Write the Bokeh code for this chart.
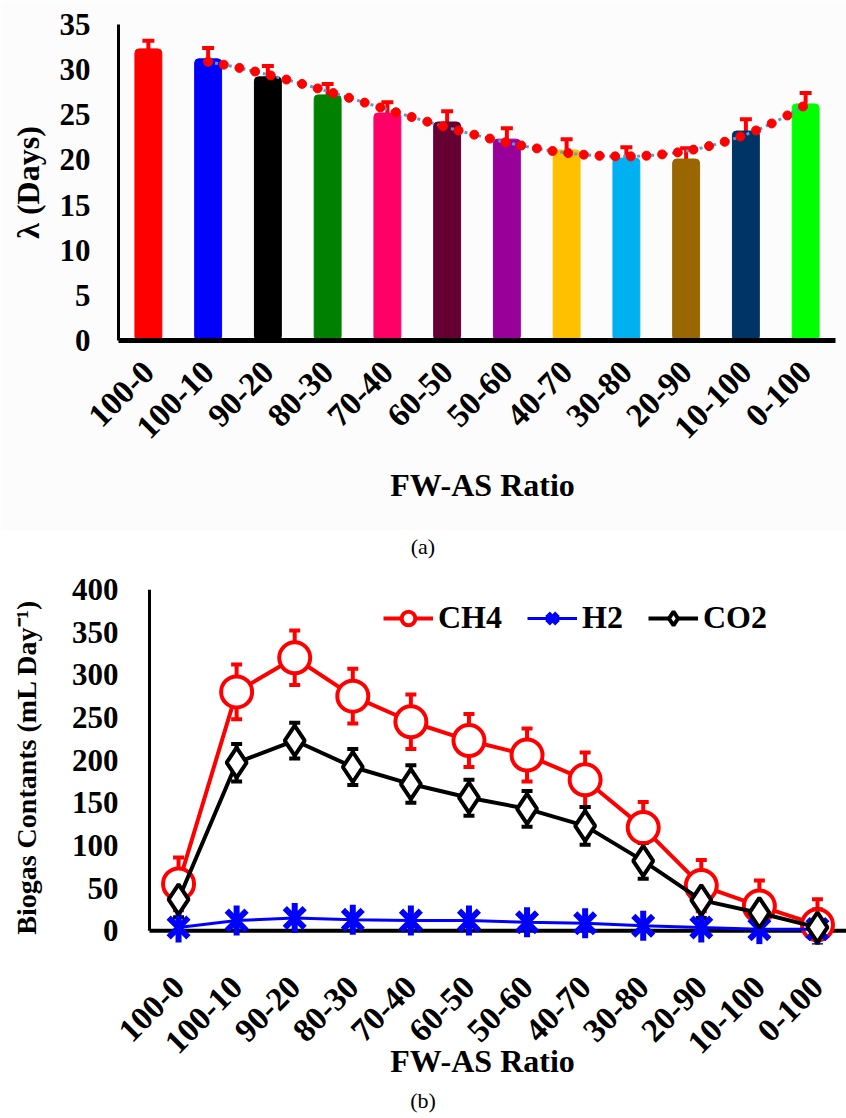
import math
import numpy as np
from bokeh.plotting import figure
from bokeh.models import (ColumnDataSource, Whisker, TeeHead, Range1d,
                          SingleIntervalTicker, FixedTicker, Legend, LegendItem, Div)
from bokeh.layouts import column
from bokeh.embed import file_html
from bokeh.resources import INLINE

# ---------------- data ----------------
ratios = ["100-0", "100-10", "90-20", "80-30", "70-40", "60-50",
          "50-60", "40-70", "30-80", "20-90", "10-100", "0-100"]

lag_days = [32.3, 31.2, 29.2, 27.2, 25.2, 24.2, 22.3, 21.1, 20.2, 20.1, 23.2, 26.2]
lag_err = [0.9, 1.2, 1.2, 1.2, 1.2, 1.2, 1.2, 1.2, 1.2, 1.2, 1.3, 1.2]
bar_colors = ["#FF0000", "#0000FF", "#000000", "#008000", "#FF0066", "#660033",
              "#990099", "#FFC000", "#00B0F0", "#996600", "#003366", "#00FF00"]

ch4 = [55, 280, 320, 275, 245, 223, 206, 177, 121, 53, 29, 7]
ch4_err = [31, 32, 32, 32, 32, 31, 31, 32, 30, 30, 30, 30]
h2 = [4, 12, 15, 13, 12, 12, 10, 9, 6, 4, 2, 2]
co2 = [37, 197, 223, 192, 172, 156, 143, 123, 82, 36, 21, 4]
co2_err = [21, 22, 21, 21, 22, 21, 21, 22, 21, 21, 21, 21]

FONT = "Liberation Serif"
idx = list(range(len(ratios)))


def style(p, tick_size, xtitle_size, ytitle_size):
    p.xgrid.visible = False
    p.ygrid.visible = False
    p.outline_line_color = None
    for ax in (p.xaxis[0], p.yaxis[0]):
        ax.major_tick_line_color = None
        ax.minor_tick_line_color = None
        ax.major_tick_out = 0
        ax.major_tick_in = 0
        ax.axis_line_color = "black"
        ax.major_label_text_font = FONT
        ax.major_label_text_font_style = "bold"
        ax.major_label_text_color = "black"
        ax.axis_label_text_font = FONT
        ax.axis_label_text_font_style = "bold"
        ax.axis_label_text_color = "black"
    p.yaxis[0].major_label_text_font_size = tick_size
    p.xaxis[0].major_label_text_font_size = "33px"
    p.xaxis[0].major_label_orientation = math.pi / 4
    p.xaxis[0].axis_label_text_font_size = xtitle_size
    p.yaxis[0].axis_label_text_font_size = ytitle_size
    p.xaxis[0].ticker = FixedTicker(ticks=idx)
    p.xaxis[0].major_label_overrides = {i: r for i, r in zip(idx, ratios)}


# ---------------- (a) lag phase bars ----------------
p1 = figure(width=846, height=530, x_range=Range1d(-0.5, 11.684),
            y_range=Range1d(0, 35), output_backend="svg", toolbar_location=None,
            min_border_left=118, min_border_right=0, min_border_top=24,
            min_border_bottom=190, background_fill_color="#fcfcfc",
            border_fill_color="#fcfcfc")

src_bar = ColumnDataSource(dict(x=idx, top=lag_days, color=bar_colors))
p1.vbar(x="x", top="top", width=0.45, color="color", source=src_bar, border_radius=4)

# polynomial trend (fitted to bars 2..12)
t_fit = np.array(idx[1:], dtype=float)
coef = np.polyfit(t_fit, np.array(lag_days[1:]), 3)
xs_line = np.linspace(t_fit[0], t_fit[-1], 300)
p1.line(xs_line, np.polyval(coef, xs_line),
        line_color="#5B9BD5", line_width=3, line_dash="3 4")
xs_dot = np.arange(t_fit[0], t_fit[-1] + 1e-6, 0.262)
p1.scatter(xs_dot, np.polyval(coef, xs_dot), marker="circle",
           size=9, fill_color="#FF0000", line_color="#FF0000")

src_e1 = ColumnDataSource(dict(x=idx,
                               up=[v + e for v, e in zip(lag_days, lag_err)],
                               lo=[v - e for v, e in zip(lag_days, lag_err)]))
p1.add_layout(Whisker(source=src_e1, base="x", upper="up", lower="lo",
                      line_color="#FF0000", line_width=4,
                      upper_head=TeeHead(size=12, line_color="#FF0000", line_width=4),
                      lower_head=TeeHead(size=12, line_color="#FF0000", line_width=4)))

style(p1, "31px", "32px", "32px")
p1.xaxis[0].bounds = (-0.5, 11.5)
p1.yaxis[0].ticker = SingleIntervalTicker(interval=5, num_minor_ticks=0)
p1.yaxis[0].axis_label = "λ (Days)"
p1.xaxis[0].axis_label = "FW-AS Ratio"
p1.yaxis[0].axis_line_width = 3
p1.xaxis[0].axis_line_width = 5
p1.yaxis[0].major_label_standoff = 28
p1.yaxis[0].axis_label_standoff = 11
p1.xaxis[0].major_label_standoff = 26
p1.xaxis[0].axis_label_standoff = 16

div_a = Div(text='<div style="width:846px;text-align:center;font-family:\'Liberation Serif\',serif;'
                 'font-size:22px;line-height:34px;color:#000">(a)</div>',
            width=846, height=30, margin=(0, 0, 0, 0))

# ---------------- (b) biogas contents ----------------
p2 = figure(width=846, height=530, x_range=Range1d(-1.0337, 11.5),
            y_range=Range1d(-16, 400), output_backend="svg", toolbar_location=None,
            min_border_left=118, min_border_right=0, min_border_top=29,
            min_border_bottom=146)

# axis lines (x axis at y = 0, y axis at the first category edge)
p2.segment(x0=[-0.5], y0=[0], x1=[11.5], y1=[0], line_color="black", line_width=4)
p2.segment(x0=[-0.5], y0=[0], x1=[-0.5], y1=[400], line_color="black", line_width=3)

l_ch4 = p2.line(idx, ch4, line_color="#FF0000", line_width=4)
s_ch4 = p2.scatter(idx, ch4, marker="circle", size=31, line_color="#FF0000",
                   line_width=4, fill_color="white")
l_h2 = p2.line(idx, h2, line_color="#0000FF", line_width=3)
s_h2a = p2.scatter(idx, h2, marker="x", size=28, line_color="#0000FF", line_width=6)
s_h2b = p2.scatter(idx, h2, marker="dash", angle=math.pi / 2, size=30,
                   line_color="#0000FF", line_width=6)
l_co2 = p2.line(idx, co2, line_color="#000000", line_width=4)
s_co2 = p2.scatter(idx, co2, marker="diamond", size=30, line_color="#000000",
                   line_width=4, fill_color="white")

for vals, errs, col in ((ch4, ch4_err, "#FF0000"), (co2, co2_err, "#000000")):
    src = ColumnDataSource(dict(x=idx,
                                up=[v + e for v, e in zip(vals, errs)],
                                lo=[v - e for v, e in zip(vals, errs)]))
    p2.add_layout(Whisker(source=src, base="x", upper="up", lower="lo",
                          line_color=col, line_width=4,
                          upper_head=TeeHead(size=11, line_color=col, line_width=4),
                          lower_head=TeeHead(size=11, line_color=col, line_width=4)))

style(p2, "31px", "32px", "28px")
p2.xaxis[0].axis_line_color = None
p2.yaxis[0].axis_line_color = None
p2.yaxis[0].ticker = SingleIntervalTicker(interval=50, num_minor_ticks=0)
p2.yaxis[0].axis_label = "Biogas Contants (mL Day⁻¹)"
p2.xaxis[0].axis_label = "FW-AS Ratio"
p2.yaxis[0].major_label_standoff = 0
p2.yaxis[0].axis_label_standoff = 27
p2.xaxis[0].major_label_standoff = 37
p2.xaxis[0].axis_label_standoff = -23

legend = Legend(items=[LegendItem(label="CH4", renderers=[l_ch4, s_ch4]),
                       LegendItem(label="H2", renderers=[l_h2, s_h2a, s_h2b]),
                       LegendItem(label="CO2", renderers=[l_co2, s_co2])],
                orientation="horizontal", location=(265, 308),
                glyph_width=50, glyph_height=34, label_standoff=5, spacing=25,
                padding=0, margin=0, border_line_color=None,
                background_fill_alpha=0,
                label_text_font=FONT, label_text_font_style="bold",
                label_text_font_size="32px", label_text_color="black")
p2.add_layout(legend)

div_b = Div(text='<div style="width:846px;text-align:center;font-family:\'Liberation Serif\',serif;'
                 'font-size:22px;line-height:22px;color:#000">(b)</div>',
            width=846, height=28, margin=(0, 0, 0, 0))

layout = column(p1, div_a, p2, div_b, spacing=0)
open("out.html", "w").write(file_html(layout, INLINE))
